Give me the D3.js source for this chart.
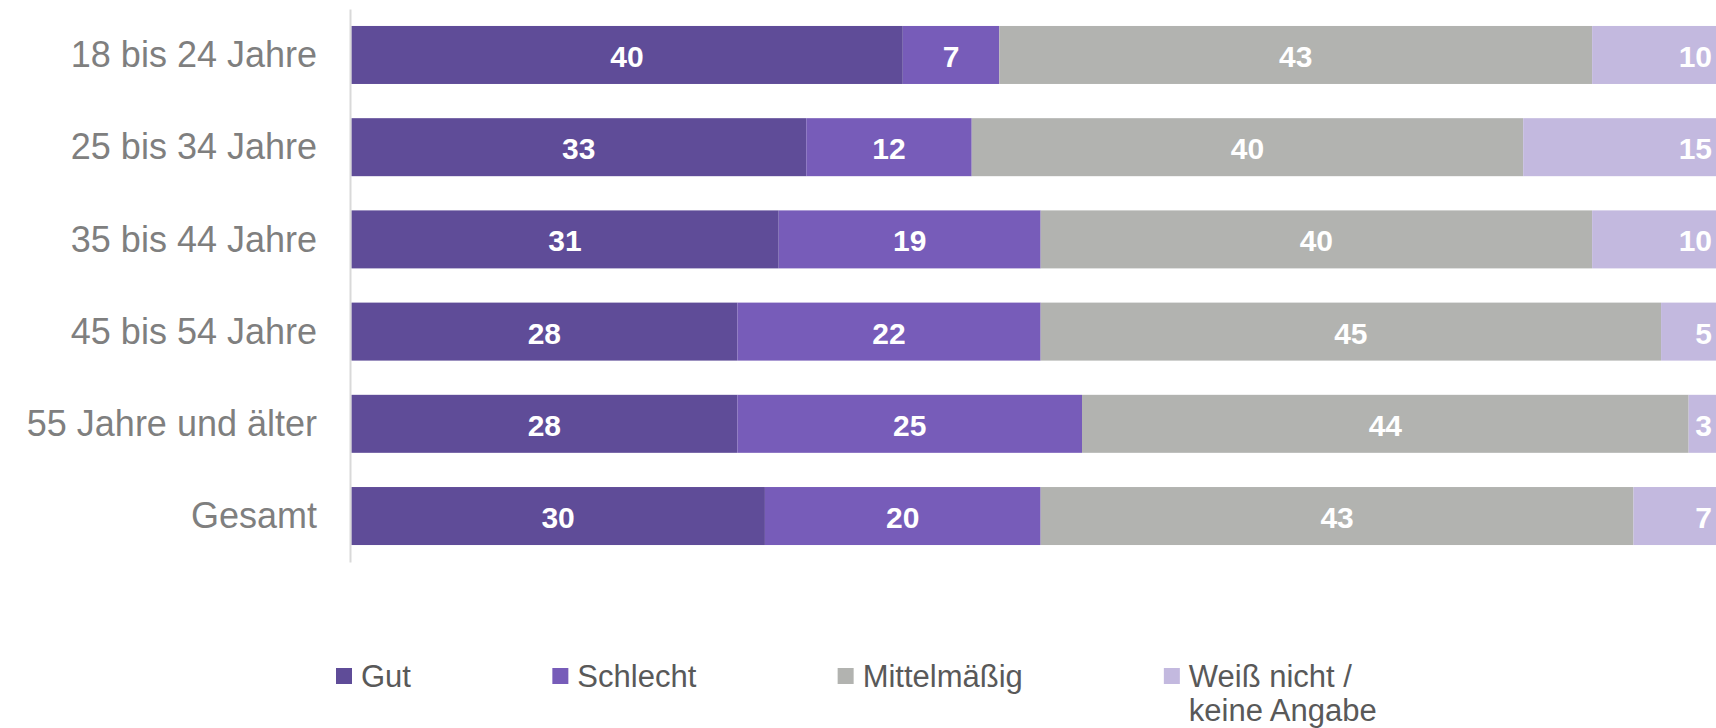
<!DOCTYPE html>
<html>
<head>
<meta charset="utf-8">
<script src="https://cdn.jsdelivr.net/npm/d3@7"></script>
<style>
  body { margin: 0; background: #fff; }
  svg { display: block; font-family: "Liberation Sans", Arial, sans-serif; }
</style>
</head>
<body>
<div id="chart"></div>
<script>
// Data
const categories = ["18 bis 24 Jahre", "25 bis 34 Jahre", "35 bis 44 Jahre", "45 bis 54 Jahre", "55 Jahre und älter", "Gesamt"];
const seriesNames = ["Gut", "Schlecht", "Mittelmäßig", "Weiß nicht / keine Angabe"];
const legendLines = [["Gut"], ["Schlecht"], ["Mittelmäßig"], ["Weiß nicht /", "keine Angabe"]];
const gut = [40, 33, 31, 28, 28, 30];
const schlecht = [7, 12, 19, 22, 25, 20];
const mittel = [43, 40, 40, 45, 44, 43];
const weissNicht = [10, 15, 10, 5, 3, 7];
const colors = ["#5f4c98", "#775cb9", "#b2b3b0", "#c3b9df"];

let width = 1716;
let height = 728;

// rows for d3.stack
let rows = categories.map((c, i) => ({
  cat: c,
  "Gut": gut[i],
  "Schlecht": schlecht[i],
  "Mittelmäßig": mittel[i],
  "Weiß nicht / keine Angabe": weissNicht[i]
}));

let stacked = d3.stack().keys(seriesNames)(rows);

let svg = d3.select("#chart").append("svg")
  .attr("width", width)
  .attr("height", height);

// Scales
let x = d3.scaleLinear()
  .domain([0, 100])
  .range([351.3, 1730]);

let y = d3.scaleBand()
  .domain(categories)
  .range([9, 562])
  .paddingInner(0.371)
  .paddingOuter(0.184);

let color = d3.scaleOrdinal()
  .domain(seriesNames)
  .range(colors);

// Bars
let layers = svg.append("g")
  .selectAll("g")
  .data(stacked)
  .join("g")
  .attr("fill", d => color(d.key));

layers.selectAll("rect")
  .data(d => d)
  .join("rect")
  .attr("x", d => x(d[0]))
  .attr("y", d => y(d.data.cat))
  .attr("width", d => x(d[1]) - x(d[0]))
  .attr("height", y.bandwidth());

// Category axis
let yAxis = d3.axisLeft(y)
  .tickSize(0)
  .tickSizeOuter(0)
  .tickPadding(33);

let axisG = svg.append("g")
  .attr("transform", "translate(350, 0)")
  .call(yAxis);

axisG.select(".domain")
  .attr("stroke", "#d9d9d9")
  .attr("stroke-width", 2);

axisG.selectAll("text")
  .attr("dy", "0.34em")
  .style("font-family", "Liberation Sans, Arial, sans-serif")
  .style("font-size", "36px")
  .style("fill", "#7f7f7f");

// Data labels
let lastKey = seriesNames[seriesNames.length - 1];
layers.selectAll("text")
  .data(d => d.map(v => Object.assign(v, { key: d.key })))
  .join("text")
  .attr("x", d => d.key == lastKey ? Math.min(x(d[1]), width) - 4 : (x(d[0]) + x(d[1])) / 2)
  .attr("y", d => y(d.data.cat) + y.bandwidth() / 2 + 12)
  .attr("text-anchor", d => d.key == lastKey ? "end" : "middle")
  .style("font-size", "30px")
  .style("font-weight", 700)
  .style("fill", "#fff")
  .text(d => d[1] - d[0]);

// Legend
let legend = svg.append("g");
let lx = 336;
seriesNames.forEach(function (name, i) {
  let item = legend.append("g").attr("transform", "translate(" + lx + ", 0)");
  item.append("rect")
    .attr("x", 0)
    .attr("y", 668)
    .attr("width", 16)
    .attr("height", 16)
    .attr("fill", color(name));
  let t = item.append("text")
    .attr("x", 25)
    .attr("y", 687)
    .style("font-size", "31px")
    .style("fill", "#595959");
  legendLines[i].forEach(function (line, j) {
    t.append("tspan")
      .attr("x", 25)
      .attr("dy", j == 0 ? 0 : 34)
      .text(line);
  });
  lx += 25 + t.node().getBBox().width + 141;
});
</script>
</body>
</html>
